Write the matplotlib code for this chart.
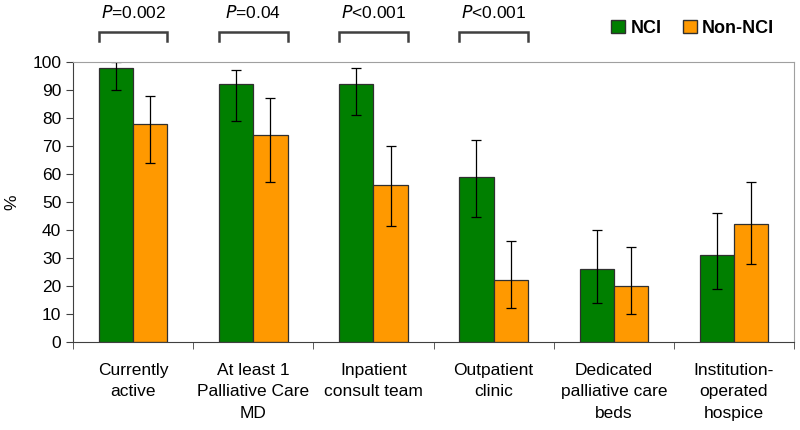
import numpy as np
import matplotlib.pyplot as plt
from matplotlib.patches import Patch

plt.rcParams['font.family'] = ['Liberation Sans', 'DejaVu Sans']

categorias = ["Currently\nactive", "At least 1\nPalliative Care\nMD", "Inpatient\nconsult team",
              "Outpatient\nclinic", "Dedicated\npalliative care\nbeds", "Institution-\noperated\nhospice"]
nci = [98, 92, 92, 59, 26, 31]
nci_bajo = [90, 79, 81, 44.5, 14, 19]
nci_alto = [100, 97, 98, 72, 40, 46]
non_nci = [78, 74, 56, 22, 20, 42]
non_bajo = [64, 57, 41.5, 12, 10, 28]
non_alto = [88, 87, 70, 36, 34, 57]
p_textos = ["=0.002", "=0.04", "<0.001", "<0.001"]

verde = "#007F00"
naranja = "#FF9900"

fig = plt.figure(figsize=(8, 4.3), dpi=100)
ax = fig.add_axes([0.0913, 0.2047, 0.9012, 0.6513])

x = np.arange(len(categorias))
w = 0.285
err_nci = [np.array(nci) - np.array(nci_bajo), np.array(nci_alto) - np.array(nci)]
err_non = [np.array(non_nci) - np.array(non_bajo), np.array(non_alto) - np.array(non_nci)]
ax.bar(x - w / 2, nci, w, color=verde, edgecolor="#303030", linewidth=0.9,
       yerr=err_nci, capsize=3.5, error_kw=dict(ecolor="black", elinewidth=0.9, capthick=0.9))
ax.bar(x + w / 2, non_nci, w, color=naranja, edgecolor="#303030", linewidth=0.9,
       yerr=err_non, capsize=3.5, error_kw=dict(ecolor="black", elinewidth=0.9, capthick=0.9))

ax.set_xlim(-0.5, len(categorias) - 0.5)
ax.set_ylim(0, 100)
ax.set_yticks(range(0, 101, 10))
ax.set_xticks(x)
ax.set_xticklabels(categorias, fontsize=12.5, linespacing=1.55, va="top")
ax.set_xticks(np.arange(-0.5, len(categorias), 1), minor=True)
ax.tick_params(axis="x", which="major", length=0, pad=15)
ax.tick_params(axis="x", which="minor", length=5, direction="out", color="#404040")
ax.tick_params(axis="y", labelsize=12.5, length=5, direction="out", color="#404040")
ax.set_ylabel("%", fontsize=12.5, va="center")
ax.yaxis.set_label_coords(-0.085, 0.5)

ax.spines["top"].set_color("#A0A0A0")
ax.spines["right"].set_color("#A0A0A0")
ax.spines["left"].set_color("#404040")
ax.spines["bottom"].set_color("#404040")

# corchetes con valores P
for i, txt in enumerate(p_textos):
    x0 = i - w
    x1 = i + w
    ax.plot([x0, x0, x1, x1], [107.6, 110.8, 110.8, 107.6], color="#404040", lw=1.8,
            clip_on=False, solid_joinstyle="miter")
    ax.text(i, 117.8, r"$\mathit{P}$" + txt, ha="center", va="center", fontsize=12.5,
            clip_on=False)

handles = [Patch(facecolor=verde, edgecolor="#303030", label="NCI"),
           Patch(facecolor=naranja, edgecolor="#303030", label="Non-NCI")]
fig.legend(handles=handles, loc="center", bbox_to_anchor=(0.866, 0.934), ncol=2, frameon=False,
           prop=dict(weight="bold", size=13), handlelength=0.75, handleheight=0.75,
           handletextpad=0.3, columnspacing=1.2)

plt.savefig("out.png")
